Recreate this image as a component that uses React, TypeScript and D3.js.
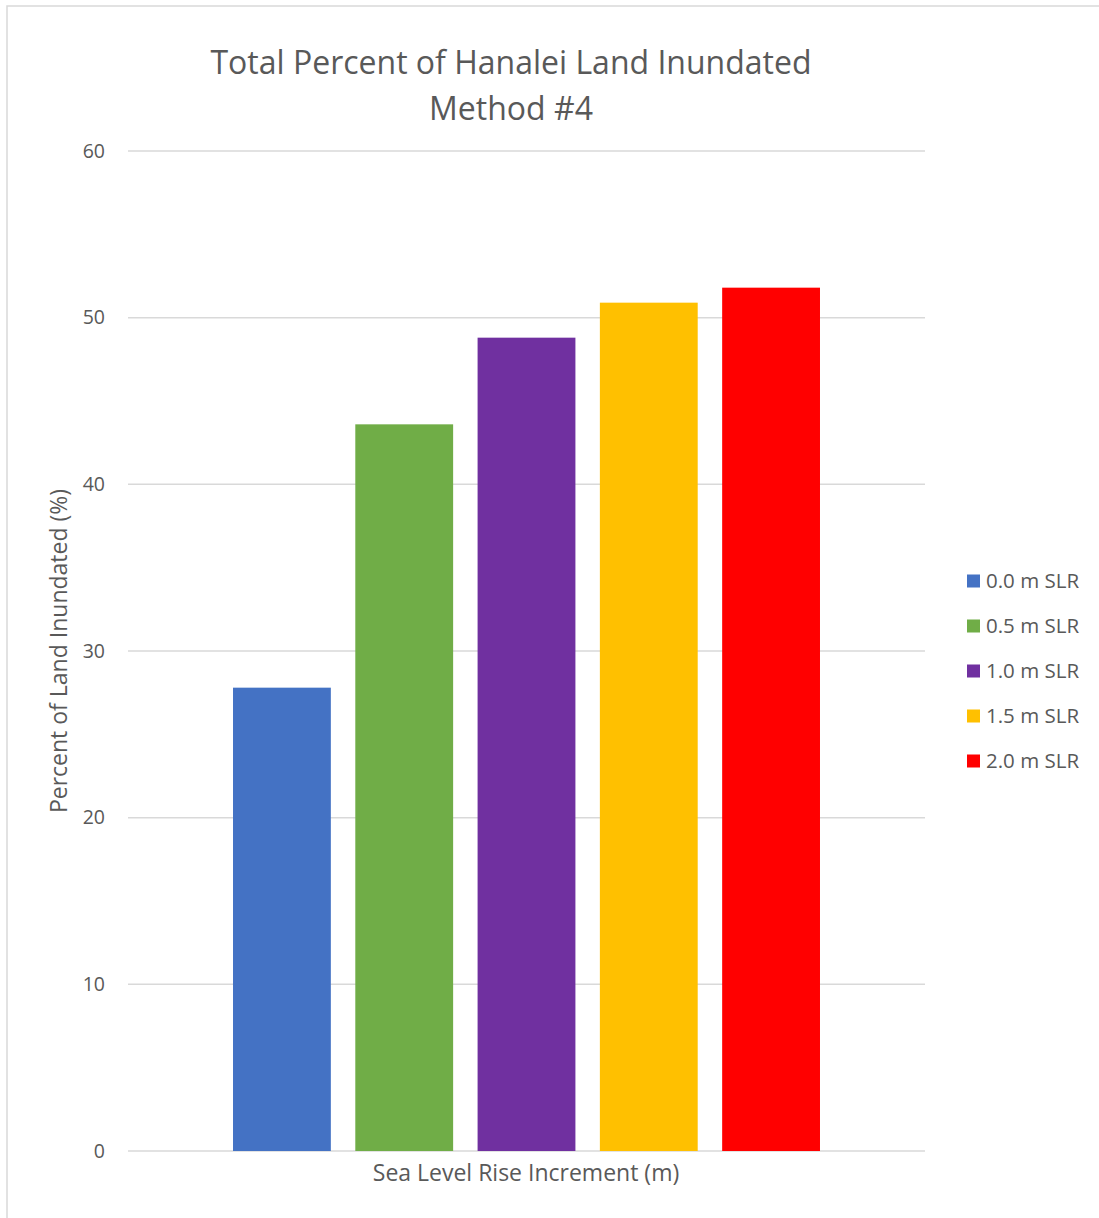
import React from "react";
import * as d3 from "d3";

const categories = ["Sea Level Rise"];
const seriesNames = ["0.0 m SLR", "0.5 m SLR", "1.0 m SLR", "1.5 m SLR", "2.0 m SLR"];
const seriesValues = [27.8, 43.6, 48.8, 50.9, 51.8];
const seriesColors = ["#4472C4", "#70AD47", "#7030A0", "#FFC000", "#FF0000"];
const yTicks = [0, 10, 20, 30, 40, 50, 60];
const titleLines = ["Total Percent of Hanalei Land Inundated", "Method #4"];
const xAxisTitle = "Sea Level Rise Increment (m)";
const yAxisTitle = "Percent of Land Inundated (%)";

const W = 1099;
const H = 1218;
const plot = { left: 128, right: 925, top: 151, bottom: 1151 };
const font = "'Open Sans', 'Noto Sans', sans-serif";
const textColor = "#595959";

export default function App() {
  const y = d3.scaleLinear().domain([0, 60]).range([plot.bottom, plot.top]);
  const xCat = d3
    .scaleBand<string>()
    .domain(categories)
    .range([plot.left, plot.right])
    .paddingInner(0)
    .paddingOuter(0.1789);
  const groupStart = xCat(categories[0]) as number;
  const xSeries = d3
    .scaleBand<string>()
    .domain(seriesNames)
    .range([groupStart, groupStart + xCat.bandwidth()])
    .paddingInner(0.2)
    .paddingOuter(0);

  return (
    <svg
      width={W}
      height={H}
      style={{ position: "absolute", left: 0, top: 0, background: "#fff" }}
      fontFamily={font}
    >
      <rect x={0} y={0} width={W} height={H} fill="#fff" />
      <rect x={7} y={6} width={W + 20} height={H + 20} fill="none" stroke="#d9d9d9" strokeWidth={1.5} />

      {titleLines.map((t, i) => (
        <text
          key={t}
          x={511}
          y={74 + i * 46}
          textAnchor="middle"
          fontSize={32}
          fill={textColor}
        >
          {t}
        </text>
      ))}

      {yTicks.map((t) => (
        <g key={t}>
          <line
            x1={plot.left}
            x2={plot.right}
            y1={y(t)}
            y2={y(t)}
            stroke="#d9d9d9"
            strokeWidth={1.5}
          />
          <text
            x={105}
            y={y(t)}
            dy="0.35em"
            textAnchor="end"
            fontSize={19.5}
            fill={textColor}
          >
            {t}
          </text>
        </g>
      ))}

      {seriesNames.map((s, i) => (
        <rect
          key={s}
          x={xSeries(s)}
          y={y(seriesValues[i])}
          width={xSeries.bandwidth()}
          height={y(0) - y(seriesValues[i])}
          fill={seriesColors[i]}
        />
      ))}

      <text x={526} y={1173} dy="0.35em" textAnchor="middle" fontSize={23} fill={textColor}>
        {xAxisTitle}
      </text>
      <text
        transform={`translate(59, ${(plot.top + plot.bottom) / 2}) rotate(-90)`}
        textAnchor="middle"
        dy="0.35em"
        fontSize={23}
        fill={textColor}
      >
        {yAxisTitle}
      </text>

      {seriesNames.map((s, i) => (
        <g key={s} transform={`translate(967, ${581 + i * 45})`}>
          <rect x={0} y={-6.5} width={13} height={13} fill={seriesColors[i]} />
          <text x={19} y={0} dy="0.35em" fontSize={20.5} fill={textColor}>
            {s}
          </text>
        </g>
      ))}
    </svg>
  );
}
